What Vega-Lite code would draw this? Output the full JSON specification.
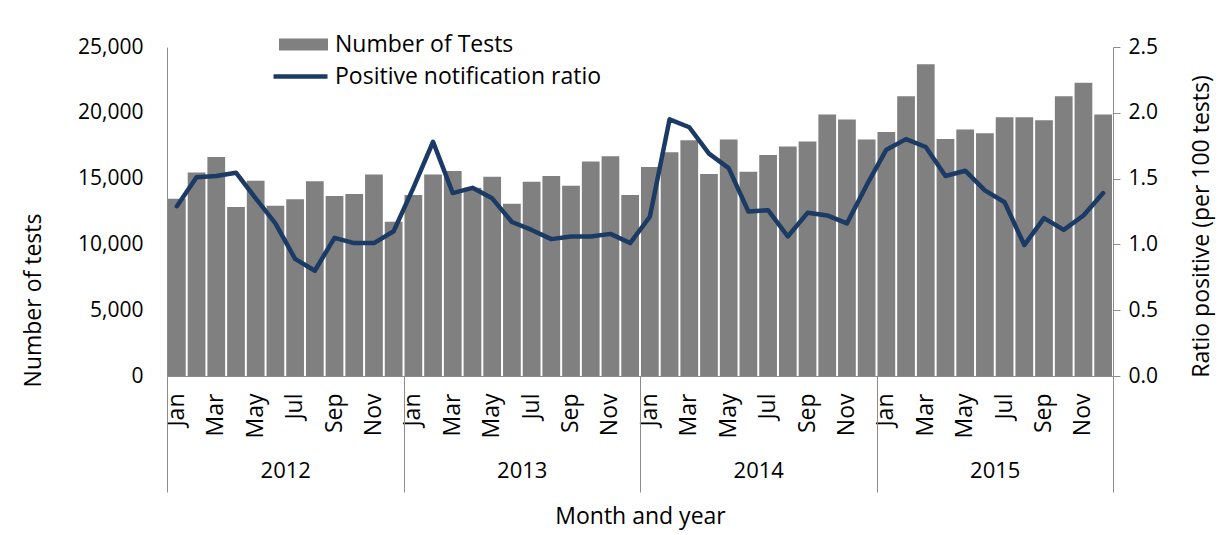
{
  "$schema": "https://vega.github.io/schema/vega-lite/v6.json",
  "width": 946,
  "height": 329,
  "autosize": {"type": "none"},
  "padding": {"left": 167, "top": 47, "right": 109, "bottom": 159},
  "background": "white",
  "config": {
    "font": "Open Sans",
    "view": {"stroke": null},
    "axis": {"grid": false, "labelColor": "#000000", "titleColor": "#000000", "titleFontWeight": "normal", "domainColor": "#8c8c8c", "tickColor": "#8c8c8c", "labelFont": "Open Sans", "titleFont": "Open Sans"},
    "legend": {"labelFont": "Open Sans", "labelColor": "#000000", "labelLimit": 0}
  },
  "data": {
    "values": [
      {"ym": "2012-01", "tests": 13470, "ratio": 1.29},
      {"ym": "2012-02", "tests": 15470, "ratio": 1.51},
      {"ym": "2012-03", "tests": 16640, "ratio": 1.52},
      {"ym": "2012-04", "tests": 12840, "ratio": 1.545},
      {"ym": "2012-05", "tests": 14840, "ratio": 1.35},
      {"ym": "2012-06", "tests": 12940, "ratio": 1.16},
      {"ym": "2012-07", "tests": 13430, "ratio": 0.89},
      {"ym": "2012-08", "tests": 14790, "ratio": 0.8},
      {"ym": "2012-09", "tests": 13680, "ratio": 1.05},
      {"ym": "2012-10", "tests": 13830, "ratio": 1.01},
      {"ym": "2012-11", "tests": 15320, "ratio": 1.01},
      {"ym": "2012-12", "tests": 11730, "ratio": 1.1},
      {"ym": "2013-01", "tests": 13750, "ratio": 1.43},
      {"ym": "2013-02", "tests": 15320, "ratio": 1.78},
      {"ym": "2013-03", "tests": 15580, "ratio": 1.39},
      {"ym": "2013-04", "tests": 14310, "ratio": 1.43},
      {"ym": "2013-05", "tests": 15150, "ratio": 1.35},
      {"ym": "2013-06", "tests": 13090, "ratio": 1.17},
      {"ym": "2013-07", "tests": 14770, "ratio": 1.11},
      {"ym": "2013-08", "tests": 15200, "ratio": 1.04},
      {"ym": "2013-09", "tests": 14460, "ratio": 1.06},
      {"ym": "2013-10", "tests": 16290, "ratio": 1.06},
      {"ym": "2013-11", "tests": 16690, "ratio": 1.08},
      {"ym": "2013-12", "tests": 13750, "ratio": 1.01},
      {"ym": "2014-01", "tests": 15880, "ratio": 1.21},
      {"ym": "2014-02", "tests": 17000, "ratio": 1.95},
      {"ym": "2014-03", "tests": 17910, "ratio": 1.89},
      {"ym": "2014-04", "tests": 15350, "ratio": 1.69},
      {"ym": "2014-05", "tests": 17980, "ratio": 1.58},
      {"ym": "2014-06", "tests": 15530, "ratio": 1.25},
      {"ym": "2014-07", "tests": 16790, "ratio": 1.26},
      {"ym": "2014-08", "tests": 17430, "ratio": 1.06},
      {"ym": "2014-09", "tests": 17810, "ratio": 1.24},
      {"ym": "2014-10", "tests": 19880, "ratio": 1.22},
      {"ym": "2014-11", "tests": 19500, "ratio": 1.16},
      {"ym": "2014-12", "tests": 17980, "ratio": 1.45},
      {"ym": "2015-01", "tests": 18540, "ratio": 1.72},
      {"ym": "2015-02", "tests": 21250, "ratio": 1.8},
      {"ym": "2015-03", "tests": 23680, "ratio": 1.74},
      {"ym": "2015-04", "tests": 18010, "ratio": 1.52},
      {"ym": "2015-05", "tests": 18740, "ratio": 1.56},
      {"ym": "2015-06", "tests": 18440, "ratio": 1.41},
      {"ym": "2015-07", "tests": 19660, "ratio": 1.32},
      {"ym": "2015-08", "tests": 19660, "ratio": 0.995},
      {"ym": "2015-09", "tests": 19430, "ratio": 1.2},
      {"ym": "2015-10", "tests": 21250, "ratio": 1.11},
      {"ym": "2015-11", "tests": 22290, "ratio": 1.22},
      {"ym": "2015-12", "tests": 19880, "ratio": 1.39}
    ]
  },
  "layer": [
    {
      "mark": {"type": "bar"},
      "encoding": {
        "x": {
          "field": "ym", "type": "ordinal", "sort": null,
          "scale": {"paddingInner": 0.1, "paddingOuter": 0.05},
          "axis": {
            "orient": "bottom", "title": null,
            "labelExpr": "{'01':'Jan','03':'Mar','05':'May','07':'Jul','09':'Sep','11':'Nov'}[slice(datum.value,5)] || ''",
            "labelAngle": 270, "labelAlign": "right", "labelBaseline": "middle",
            "labelPadding": 17, "labelFontSize": 23, "ticks": false, "domain": true,
            "labelOverlap": false
          }
        },
        "y": {
          "field": "tests", "type": "quantitative",
          "scale": {"domain": [0, 25000]},
          "axis": {
            "orient": "left", "values": [0, 5000, 10000, 15000, 20000, 25000], "format": ",d",
            "ticks": false, "labelPadding": 24, "labelFontSize": 21, "labelFlush": false,
            "title": "Number of tests", "titleFontSize": 23, "titleAngle": 270,
            "titleX": -134, "titleY": 253, "titleBaseline": "middle", "titleAlign": "center"
          }
        },
        "fill": {
          "datum": "Number of Tests",
          "scale": {"range": ["#808080"]},
          "legend": {
            "orient": "none", "legendX": 112, "legendY": -27, "title": null,
            "symbolType": "M-1,-0.245H1V0.245H-1Z", "symbolSize": 2401, "symbolStrokeWidth": 0,
            "labelFontSize": 23, "labelOffset": 7, "padding": 0, "labelLimit": 0
          }
        }
      }
    },
    {
      "mark": {"type": "line", "strokeWidth": 4.5, "strokeJoin": "round", "strokeCap": "round"},
      "encoding": {
        "x": {
          "field": "ym", "type": "ordinal", "sort": null,
          "axis": {
            "orient": "bottom", "values": ["2012-01"], "labels": false, "domain": false,
            "tickOffset": -9.856, "tickSize": 116, "title": null
          }
        },
        "y": {
          "field": "ratio", "type": "quantitative",
          "scale": {"domain": [0, 2.5]},
          "axis": {
            "orient": "right", "values": [0, 0.5, 1, 1.5, 2, 2.5], "format": ".1f",
            "tickSize": 7, "labelPadding": 8, "labelFontSize": 21, "labelFlush": false,
            "title": "Ratio positive (per 100 tests)", "titleFontSize": 23, "titleAngle": 270,
            "titleX": 88, "titleY": 179, "titleBaseline": "middle", "titleAlign": "center"
          }
        },
        "stroke": {
          "datum": "Positive notification ratio",
          "scale": {"range": ["#1b3a64"]},
          "legend": {
            "orient": "none", "legendX": 104, "legendY": 0, "title": null,
            "symbolType": "stroke", "symbolSize": 2916, "symbolStrokeWidth": 4.5,
            "labelFontSize": 23, "labelOffset": 5, "padding": 0, "labelLimit": 0
          }
        }
      }
    },
    {
      "mark": {"type": "rule", "opacity": 0},
      "encoding": {
        "x": {
          "field": "ym", "type": "ordinal", "sort": null,
          "axis": {
            "orient": "bottom", "values": ["2012-12", "2013-12", "2014-12", "2015-12"],
            "tickOffset": 9.856, "tickSize": 116, "domain": false,
            "labelExpr": "slice(datum.value,0,4)", "labelOffset": -118.27,
            "labelAngle": 0, "labelAlign": "center", "labelBaseline": "middle",
            "labelPadding": -22, "labelFontSize": 22, "labelOverlap": false,
            "title": "Month and year", "titleFontSize": 23,
            "titleX": 473, "titleY": 140, "titleBaseline": "middle", "titleAlign": "center"
          }
        }
      }
    }
  ],
  "resolve": {"scale": {"y": "independent"}, "axis": {"x": "independent", "y": "independent"}}
}
